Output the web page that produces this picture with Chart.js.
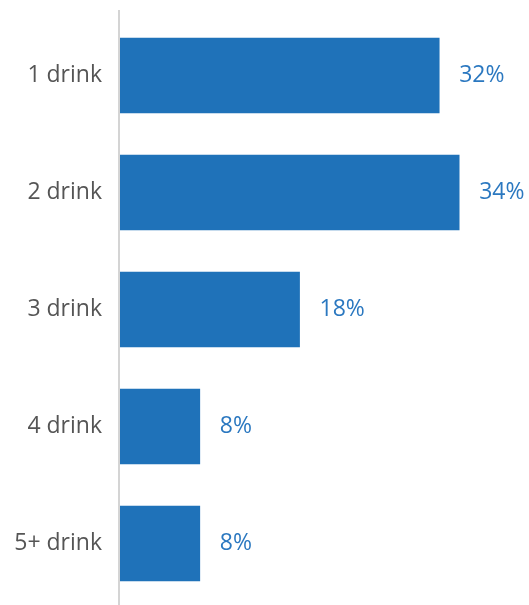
<!DOCTYPE html>
<html>
<head>
<meta charset="utf-8">
<script src="https://cdn.jsdelivr.net/npm/chart.js@4"></script>
<style>
  html, body { margin: 0; padding: 0; background: #fff; overflow: hidden; }
  canvas { display: block; }
</style>
</head>
<body>
<canvas id="barChart" width="529" height="605"></canvas>
<script>
"use strict";

const categories = ["1 drink", "2 drink", "3 drink", "4 drink", "5+ drink"];
const shares = [32, 34, 18, 8, 8];

const barColor = "#1f72b9";
const labelColor = "#2b78c0";

// value labels to the right of each bar
const valueLabels = {
  id: "valueLabels",
  afterDatasetsDraw(chart) {
    const ctx = chart.ctx;
    const meta = chart.getDatasetMeta(0);
    ctx.save();
    ctx.font = "23px 'Open Sans'";
    ctx.fillStyle = labelColor;
    ctx.textAlign = "left";
    ctx.textBaseline = "middle";
    meta.data.forEach((bar, i) => {
      ctx.fillText(shares[i] + "%", bar.x + 20, bar.y);
    });
    ctx.restore();
  }
};

// light vertical axis line, a bit longer than the plot area
const axisLine = {
  id: "axisLine",
  afterDraw(chart) {
    const ctx = chart.ctx;
    const area = chart.chartArea;
    ctx.save();
    ctx.strokeStyle = "#d4d4d4";
    ctx.lineWidth = 2;
    ctx.beginPath();
    ctx.moveTo(area.left - 1, area.top - 7);
    ctx.lineTo(area.left - 1, area.bottom + 5);
    ctx.stroke();
    ctx.restore();
  }
};

new Chart(document.getElementById("barChart"), {
  type: "bar",
  data: {
    labels: categories,
    datasets: [{
      data: shares,
      backgroundColor: barColor,
      barThickness: 75
    }]
  },
  options: {
    indexAxis: "y",
    responsive: false,
    animation: false,
    layout: { padding: { top: 2, bottom: 0, left: 0, right: 0 } },
    plugins: {
      legend: { display: false },
      tooltip: { enabled: false }
    },
    scales: {
      x: {
        display: false,
        min: 0,
        max: 41
      },
      y: {
        grid: { display: false, drawTicks: false },
        border: { display: false },
        ticks: {
          color: "#555555",
          padding: 18,
          font: { family: "'Open Sans'", size: 23 }
        },
        afterFit(scale) {
          scale.width = 120;
          scale.paddingTop = 17;
          scale.paddingBottom = 3;
        }
      }
    }
  },
  plugins: [valueLabels, axisLine]
});
</script>
</body>
</html>
